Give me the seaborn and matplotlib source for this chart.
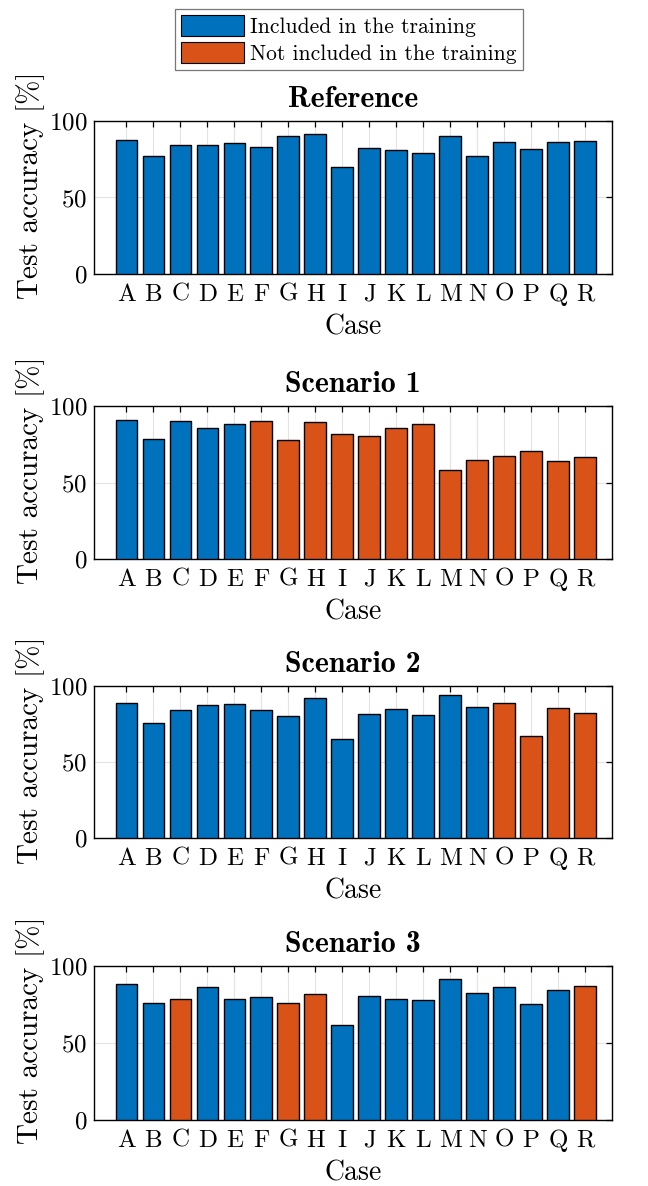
import matplotlib
matplotlib.use("Agg")
import matplotlib.pyplot as plt
from matplotlib.patches import Patch
import seaborn as sns
import pandas as pd

cases = list("ABCDEFGHIJKLMNOPQR")

reference_acc = [87.4, 76.9, 84.5, 84.1, 85.8, 82.8, 90.0, 91.5, 69.9,
                 82.1, 80.8, 78.9, 90.4, 76.9, 86.5, 81.9, 86.5, 86.7]
scenario1_acc = [90.6, 78.2, 90.0, 85.6, 88.5, 90.4, 77.6, 89.3, 81.7,
                 80.2, 85.6, 88.0, 58.4, 64.7, 67.1, 70.6, 63.8, 66.9]
scenario2_acc = [88.6, 75.5, 84.0, 87.7, 88.2, 84.2, 80.1, 91.9, 65.2,
                 81.4, 84.7, 81.0, 94.1, 86.0, 88.8, 67.4, 85.8, 82.3]
scenario3_acc = [88.3, 76.1, 78.7, 86.3, 78.5, 79.6, 75.7, 81.8, 61.6,
                 80.3, 78.5, 77.9, 91.3, 82.4, 86.6, 75.1, 84.2, 87.0]

# cases left out of training in each scenario
reference_out = []
scenario1_out = list("FGHIJKLMNOPQR")
scenario2_out = list("OPQR")
scenario3_out = list("CGHR")

titles = ["Reference", "Scenario 1", "Scenario 2", "Scenario 3"]
y_ticks = [0, 50, 100]
legend_labels = ["Included in the training", "Not included in the training"]

BLUE = "#0072BD"
ORANGE = "#D95319"

panels = [
    (reference_acc, reference_out),
    (scenario1_acc, scenario1_out),
    (scenario2_acc, scenario2_out),
    (scenario3_acc, scenario3_out),
]

sns.set_style("white")
plt.rcParams["font.family"] = ["cmr10"]
plt.rcParams["axes.formatter.use_mathtext"] = True
plt.rcParams["mathtext.fontset"] = "cm"
for key in ["text.color", "axes.labelcolor", "xtick.color", "ytick.color"]:
    plt.rcParams[key] = "black"

W, H = 648, 1186
fig = plt.figure(figsize=(W / 100, H / 100), dpi=100)

# axes boxes in pixel coordinates (left, top, right, bottom)
boxes = [(94, 121, 612, 274), (94, 406, 612, 559),
         (94, 686, 612, 838), (94, 966, 612, 1120)]

TICK_FS = 18
XLAB_FS = 20
YLAB_FS = 21
TITLE_FS = 21.5
for (vals, left_out), title, (l, t, r, b) in zip(panels, titles, boxes):
    ax = fig.add_axes([l / W, 1 - b / H, (r - l) / W, (b - t) / H])
    status = [legend_labels[1] if c in left_out else legend_labels[0] for c in cases]
    df = pd.DataFrame({"case": cases, "acc": vals, "status": status})
    sns.barplot(data=df, x="case", y="acc", hue="status",
                hue_order=legend_labels, palette=[BLUE, ORANGE],
                saturation=1, dodge=False, width=0.8, edgecolor="black",
                linewidth=1.0, legend=False, ax=ax, zorder=3)
    ax.set_xlim(-1.2, 18.0)
    ax.set_ylim(0, 100)
    ax.set_yticks(y_ticks)
    ax.set_xticks(range(len(cases)))
    ax.set_xticklabels(cases)
    ax.grid(True, color="#e3e3e3", linewidth=0.8, zorder=0)
    ax.set_axisbelow(True)
    ax.tick_params(direction="in", length=4, width=0.9, top=True, right=True,
                   labelsize=TICK_FS, colors="black")
    ax.tick_params(axis="x", pad=7)
    ax.tick_params(axis="y", pad=5)
    for s in ax.spines.values():
        s.set_color("black")
        s.set_linewidth(1.0)
    ax.set_xlabel("Case", fontsize=XLAB_FS, labelpad=6)
    ax.set_ylabel("Test accuracy [%]", fontsize=YLAB_FS)
    ax.yaxis.set_label_coords(-0.094, 0.58)
    ax.set_title(title, fontsize=TITLE_FS, family="cmb10", pad=10)

handles = [Patch(facecolor=BLUE, edgecolor="black", linewidth=0.8),
           Patch(facecolor=ORANGE, edgecolor="black", linewidth=0.8)]
leg = fig.legend(handles, legend_labels, loc="upper center",
                 bbox_to_anchor=(349 / W, 1 - 9 / H), fontsize=15.5,
                 frameon=True, fancybox=False, handlelength=2.9,
                 handleheight=1.1, handletextpad=0.3, borderpad=0.3,
                 labelspacing=0.22, borderaxespad=0)
leg.get_frame().set_edgecolor("#555555")
leg.get_frame().set_linewidth(0.9)

fig.savefig("out.png", dpi=100)
